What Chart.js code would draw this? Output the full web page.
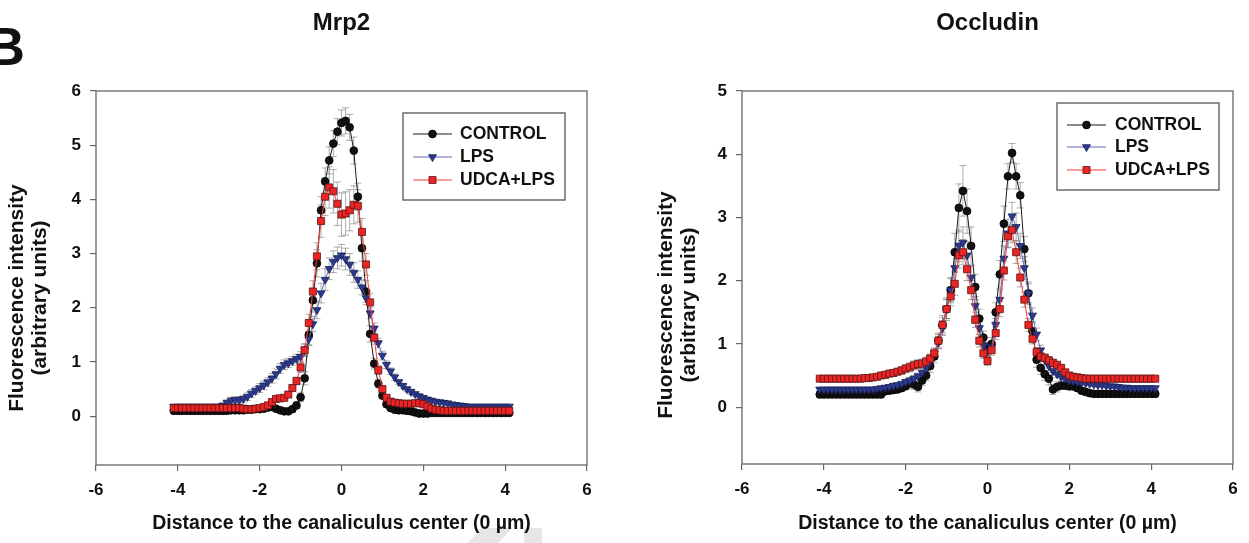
<!DOCTYPE html>
<html>
<head>
<meta charset="utf-8">
<script src="https://cdn.jsdelivr.net/npm/chart.js@4.4.1/dist/chart.umd.min.js"></script>
<style>
  html, body { margin: 0; padding: 0; background: #fff; overflow: hidden; }
  #wrap { position: relative; width: 1249px; height: 543px; overflow: hidden; }
  canvas { position: absolute; top: 0; }
  #panel { position: absolute; left: -14px; top: 19px; font: bold 54px/54px "Liberation Sans", Arial, sans-serif; color: #111; }
  .wm { position: absolute; background: #e6e6e6; }
  #wm1 { left: 468px; top: 528px; width: 44px; height: 15px; clip-path: polygon(30% 0, 100% 0, 70% 100%, 0 100%); }
  #wm2 { left: 524px; top: 528px; width: 18px; height: 15px; }
</style>
</head>
<body>
<div id="wrap">
  <div id="panel">B</div>
  <div class="wm" id="wm1"></div>
  <div class="wm" id="wm2"></div>
  <canvas id="mrp2" width="620" height="543" style="left:0"></canvas>
  <canvas id="occludin" width="629" height="543" style="left:620px"></canvas>
</div>
<script>
'use strict';

// ---- data -------------------------------------------------------------
const xPositions = [
  -4.1, -4.0, -3.9, -3.8, -3.7, -3.6, -3.5, -3.4, -3.3, -3.2, -3.1, -3.0, -2.9, -2.8, -2.7, -2.6, -2.5, -2.4, -2.3, -2.2, -2.1, -2.0,
  -1.9, -1.8, -1.7, -1.6, -1.5, -1.4, -1.3, -1.2, -1.1, -1.0, -0.9, -0.8, -0.7, -0.6, -0.5, -0.4, -0.3, -0.2, -0.1,
  0.0,
  0.1, 0.2, 0.3, 0.4, 0.5, 0.6, 0.7, 0.8, 0.9, 1.0, 1.1, 1.2, 1.3, 1.4, 1.5, 1.6, 1.7, 1.8, 1.9, 2.0, 2.1, 2.2,
  2.3, 2.4, 2.5, 2.6, 2.7, 2.8, 2.9, 3.0, 3.1, 3.2, 3.3, 3.4, 3.5, 3.6, 3.7, 3.8, 3.9, 4.0, 4.1
];
const xTicks = [-6, -4, -2, 0, 2, 4, 6];
const mrp2YTicks = [0, 1, 2, 3, 4, 5, 6];
const occYTicks = [0, 1, 2, 3, 4, 5];
const seriesLabels = ['CONTROL', 'LPS', 'UDCA+LPS'];

// Mrp2
const mrp2Control = [
  0.10, 0.10, 0.10, 0.10, 0.10, 0.10, 0.10, 0.10, 0.10, 0.10, 0.10, 0.10, 0.10, 0.10, 0.11, 0.11, 0.11, 0.11, 0.12, 0.12, 0.13, 0.13,
  0.14, 0.16, 0.17, 0.14, 0.11, 0.09, 0.09, 0.13, 0.20, 0.35, 0.70, 1.50, 2.14, 2.82, 3.80, 4.33, 4.72, 5.03, 5.25,
  5.41,
  5.45, 5.33, 4.90, 4.05, 3.10, 2.30, 1.52, 0.97, 0.60, 0.38, 0.22, 0.15, 0.12, 0.11, 0.11, 0.10, 0.09, 0.07, 0.05, 0.05, 0.05, 0.06,
  0.06, 0.06, 0.06, 0.06, 0.06, 0.06, 0.06, 0.06, 0.06, 0.06, 0.06, 0.06, 0.06, 0.06, 0.06, 0.06, 0.06, 0.06, 0.06
];
const mrp2Lps = [
  0.18, 0.18, 0.18, 0.18, 0.18, 0.18, 0.18, 0.18, 0.18, 0.18, 0.18, 0.18, 0.20, 0.25, 0.29, 0.30, 0.30, 0.32, 0.36, 0.42, 0.47, 0.52,
  0.57, 0.63, 0.70, 0.78, 0.88, 0.95, 0.98, 1.02, 1.06, 1.10, 1.22, 1.42, 1.70, 1.96, 2.27, 2.52, 2.72, 2.85, 2.92,
  2.97,
  2.90, 2.80, 2.65, 2.52, 2.38, 2.18, 1.90, 1.62, 1.35, 1.12, 0.95, 0.83, 0.72, 0.63, 0.56, 0.50, 0.45, 0.41, 0.37, 0.34, 0.31, 0.29,
  0.27, 0.26, 0.25, 0.24, 0.22, 0.21, 0.20, 0.19, 0.18, 0.18, 0.18, 0.18, 0.18, 0.18, 0.18, 0.18, 0.18, 0.18, 0.18
];
const mrp2Udca = [
  0.15, 0.15, 0.15, 0.15, 0.15, 0.15, 0.15, 0.15, 0.15, 0.15, 0.15, 0.15, 0.15, 0.15, 0.15, 0.15, 0.15, 0.14, 0.13, 0.13, 0.14, 0.15,
  0.17, 0.20, 0.26, 0.32, 0.33, 0.34, 0.40, 0.52, 0.65, 0.90, 1.22, 1.72, 2.30, 2.95, 3.60, 4.05, 4.22, 4.15, 3.92,
  3.72,
  3.74, 3.80, 3.90, 3.88, 3.40, 2.80, 2.10, 1.45, 0.85, 0.50, 0.34, 0.27, 0.25, 0.24, 0.23, 0.23, 0.23, 0.24, 0.24, 0.22, 0.18, 0.14,
  0.12, 0.11, 0.10, 0.10, 0.10, 0.10, 0.10, 0.10, 0.10, 0.10, 0.10, 0.10, 0.10, 0.10, 0.10, 0.10, 0.10, 0.10, 0.10
];
const mrp2ControlErr = [
  0.03, 0.03, 0.03, 0.03, 0.03, 0.03, 0.03, 0.03, 0.03, 0.03, 0.03, 0.03, 0.03, 0.03, 0.03, 0.03, 0.03, 0.03, 0.03, 0.03, 0.03, 0.03,
  0.03, 0.04, 0.04, 0.04, 0.04, 0.04, 0.04, 0.05, 0.06, 0.08, 0.12, 0.18, 0.22, 0.25, 0.25, 0.25, 0.25, 0.24, 0.24,
  0.24,
  0.24, 0.24, 0.25, 0.25, 0.24, 0.20, 0.15, 0.10, 0.08, 0.06, 0.05, 0.04, 0.04, 0.03, 0.03, 0.03, 0.03, 0.03, 0.03, 0.03, 0.03, 0.03,
  0.03, 0.03, 0.03, 0.03, 0.03, 0.03, 0.03, 0.03, 0.03, 0.03, 0.03, 0.03, 0.03, 0.03, 0.03, 0.03, 0.03, 0.03, 0.03
];
const mrp2LpsErr = [
  0.03, 0.03, 0.03, 0.03, 0.03, 0.03, 0.03, 0.03, 0.03, 0.03, 0.03, 0.03, 0.04, 0.05, 0.06, 0.06, 0.06, 0.06, 0.07, 0.07, 0.07, 0.08,
  0.08, 0.08, 0.09, 0.09, 0.09, 0.09, 0.08, 0.08, 0.08, 0.09, 0.10, 0.12, 0.14, 0.16, 0.18, 0.20, 0.20, 0.20, 0.20,
  0.20,
  0.20, 0.20, 0.18, 0.16, 0.14, 0.12, 0.10, 0.10, 0.09, 0.08, 0.07, 0.06, 0.06, 0.05, 0.05, 0.05, 0.05, 0.04, 0.04, 0.04, 0.04, 0.04,
  0.04, 0.04, 0.04, 0.04, 0.03, 0.03, 0.03, 0.03, 0.03, 0.03, 0.03, 0.03, 0.03, 0.03, 0.03, 0.03, 0.03, 0.03, 0.03
];
const mrp2UdcaErr = [
  0.03, 0.03, 0.03, 0.03, 0.03, 0.03, 0.03, 0.03, 0.03, 0.03, 0.03, 0.03, 0.03, 0.03, 0.03, 0.03, 0.03, 0.03, 0.03, 0.03, 0.03, 0.03,
  0.03, 0.04, 0.05, 0.05, 0.05, 0.05, 0.05, 0.06, 0.07, 0.09, 0.12, 0.16, 0.20, 0.25, 0.30, 0.35, 0.38, 0.40, 0.40,
  0.40,
  0.40, 0.38, 0.35, 0.30, 0.25, 0.20, 0.16, 0.12, 0.08, 0.06, 0.05, 0.04, 0.04, 0.04, 0.04, 0.04, 0.04, 0.04, 0.04, 0.04, 0.03, 0.03,
  0.03, 0.03, 0.03, 0.03, 0.03, 0.03, 0.03, 0.03, 0.03, 0.03, 0.03, 0.03, 0.03, 0.03, 0.03, 0.03, 0.03, 0.03, 0.03
];

// Occludin
const occControl = [
  0.20, 0.20, 0.20, 0.20, 0.20, 0.20, 0.20, 0.20, 0.20, 0.20, 0.20, 0.20, 0.20, 0.20, 0.20, 0.20, 0.25, 0.26, 0.27, 0.28, 0.30, 0.33,
  0.38, 0.36, 0.32, 0.42, 0.50, 0.65, 0.80, 1.05, 1.30, 1.55, 1.85, 2.45, 3.15, 3.42, 3.10, 2.55, 1.90, 1.40, 1.10,
  0.92,
  1.00, 1.50, 2.10, 2.90, 3.65, 4.02, 3.65, 3.35, 2.50, 1.80, 1.20, 0.75, 0.62, 0.52, 0.45, 0.28, 0.32, 0.34, 0.34, 0.33, 0.33, 0.30,
  0.26, 0.24, 0.22, 0.21, 0.21, 0.21, 0.21, 0.21, 0.21, 0.21, 0.21, 0.21, 0.21, 0.21, 0.21, 0.21, 0.21, 0.21, 0.21
];
const occLps = [
  0.28, 0.28, 0.28, 0.28, 0.28, 0.28, 0.28, 0.28, 0.28, 0.28, 0.28, 0.28, 0.28, 0.28, 0.29, 0.30, 0.31, 0.32, 0.34, 0.35, 0.37, 0.40,
  0.42, 0.45, 0.49, 0.55, 0.62, 0.72, 0.85, 1.02, 1.25, 1.55, 1.85, 2.20, 2.55, 2.60, 2.40, 2.05, 1.60, 1.25, 0.98,
  0.88,
  0.95, 1.30, 1.70, 2.35, 2.75, 3.02, 2.85, 2.55, 2.20, 1.80, 1.45, 1.15, 0.90, 0.75, 0.65, 0.57, 0.52, 0.48, 0.45, 0.42, 0.41, 0.40,
  0.39, 0.38, 0.37, 0.36, 0.35, 0.35, 0.34, 0.33, 0.33, 0.32, 0.31, 0.31, 0.30, 0.30, 0.30, 0.30, 0.30, 0.30, 0.30
];
const occUdca = [
  0.45, 0.45, 0.45, 0.45, 0.45, 0.45, 0.45, 0.45, 0.45, 0.45, 0.45, 0.46, 0.46, 0.47, 0.48, 0.50, 0.51, 0.53, 0.54, 0.56, 0.58, 0.61,
  0.63, 0.66, 0.68, 0.69, 0.72, 0.77, 0.85, 1.05, 1.30, 1.55, 1.75, 1.95, 2.40, 2.45, 2.18, 1.85, 1.38, 1.05, 0.85,
  0.73,
  0.90, 1.17, 1.55, 2.16, 2.70, 2.80, 2.45, 2.05, 1.70, 1.30, 1.08, 0.87, 0.80, 0.78, 0.74, 0.70, 0.67, 0.62, 0.55, 0.50, 0.48, 0.47,
  0.46, 0.45, 0.45, 0.45, 0.45, 0.45, 0.45, 0.45, 0.45, 0.45, 0.45, 0.45, 0.45, 0.45, 0.45, 0.45, 0.45, 0.45, 0.45
];
const occControlErr = [
  0.05, 0.05, 0.05, 0.05, 0.05, 0.05, 0.05, 0.05, 0.05, 0.05, 0.05, 0.05, 0.05, 0.05, 0.05, 0.05, 0.05, 0.05, 0.05, 0.05, 0.05, 0.05,
  0.08, 0.08, 0.08, 0.08, 0.08, 0.10, 0.10, 0.12, 0.15, 0.18, 0.20, 0.30, 0.38, 0.40, 0.35, 0.30, 0.20, 0.15, 0.10,
  0.10,
  0.10, 0.15, 0.22, 0.28, 0.20, 0.15, 0.20, 0.20, 0.20, 0.18, 0.15, 0.12, 0.10, 0.10, 0.10, 0.08, 0.08, 0.06, 0.06, 0.06, 0.06, 0.05,
  0.05, 0.05, 0.05, 0.05, 0.05, 0.05, 0.05, 0.05, 0.05, 0.05, 0.05, 0.05, 0.05, 0.05, 0.05, 0.05, 0.05, 0.05, 0.05
];
const occLpsErr = [
  0.03, 0.03, 0.03, 0.03, 0.03, 0.03, 0.03, 0.03, 0.03, 0.03, 0.03, 0.03, 0.03, 0.03, 0.03, 0.03, 0.03, 0.03, 0.03, 0.03, 0.03, 0.03,
  0.05, 0.05, 0.05, 0.06, 0.06, 0.07, 0.08, 0.10, 0.12, 0.15, 0.18, 0.20, 0.25, 0.25, 0.22, 0.18, 0.15, 0.10, 0.08,
  0.08,
  0.08, 0.10, 0.15, 0.20, 0.22, 0.22, 0.22, 0.20, 0.18, 0.15, 0.12, 0.10, 0.08, 0.08, 0.07, 0.06, 0.05, 0.05, 0.04, 0.04, 0.04, 0.04,
  0.03, 0.03, 0.03, 0.03, 0.03, 0.03, 0.03, 0.03, 0.03, 0.03, 0.03, 0.03, 0.03, 0.03, 0.03, 0.03, 0.03, 0.03, 0.03
];
const occUdcaErr = [
  0.03, 0.03, 0.03, 0.03, 0.03, 0.03, 0.03, 0.03, 0.03, 0.03, 0.03, 0.03, 0.03, 0.03, 0.03, 0.03, 0.04, 0.04, 0.05, 0.05, 0.06, 0.06,
  0.07, 0.07, 0.07, 0.07, 0.07, 0.07, 0.08, 0.10, 0.12, 0.15, 0.15, 0.18, 0.20, 0.20, 0.18, 0.15, 0.12, 0.10, 0.08,
  0.07,
  0.08, 0.10, 0.12, 0.15, 0.18, 0.20, 0.18, 0.15, 0.12, 0.10, 0.08, 0.07, 0.06, 0.06, 0.06, 0.06, 0.05, 0.05, 0.04, 0.04, 0.03, 0.03,
  0.03, 0.03, 0.03, 0.03, 0.03, 0.03, 0.03, 0.03, 0.03, 0.03, 0.03, 0.03, 0.03, 0.03, 0.03, 0.03, 0.03, 0.03, 0.03
];

// ---- styles -----------------------------------------------------------
const FONT = '"Liberation Sans", Arial, sans-serif';
const INK = '#111';
const AXIS = '#666';

const STYLE_CONTROL = {
  borderColor: '#1a1a1a', pointStyle: 'circle', pointRadius: 3.9, pointRotation: 0,
  pointBackgroundColor: '#111', pointBorderColor: '#000', order: 2,
};
const STYLE_LPS = {
  borderColor: '#6b6bb8', pointStyle: 'triangle', pointRadius: 4.6, pointRotation: 180,
  pointBackgroundColor: '#2b3a8c', pointBorderColor: '#1b1f5a', order: 1,
};
const STYLE_UDCA = {
  borderColor: '#ff3a3a', pointStyle: 'rect', pointRadius: 5, pointRotation: 0,
  pointBackgroundColor: '#ec2424', pointBorderColor: '#5a1515', order: 0,
};

Chart.defaults.font.family = FONT;
Chart.defaults.color = INK;

// ---- plugins ----------------------------------------------------------
const plotFrame = {
  id: 'plotFrame',
  beforeDatasetsDraw(chart) {
    const { ctx, chartArea: a } = chart;
    ctx.save();
    ctx.strokeStyle = AXIS;
    ctx.lineWidth = 1.3;
    ctx.strokeRect(a.left, a.top, a.right - a.left, a.bottom - a.top);
    ctx.restore();
  },
};

const errorBars = {
  id: 'errorBars',
  beforeDatasetsDraw(chart) {
    const { ctx, scales: { x, y } } = chart;
    ctx.save();
    ctx.strokeStyle = 'rgba(105,105,105,0.55)';
    ctx.lineWidth = 1;
    chart.data.datasets.forEach(ds => {
      ds.data.forEach((p, i) => {
        const e = ds.errors[i];
        const px = x.getPixelForValue(p.x);
        const top = y.getPixelForValue(p.y + e);
        const bot = y.getPixelForValue(p.y - e);
        ctx.beginPath();
        ctx.moveTo(px, top); ctx.lineTo(px, bot);
        ctx.moveTo(px - 3.5, top); ctx.lineTo(px + 3.5, top);
        ctx.moveTo(px - 3.5, bot); ctx.lineTo(px + 3.5, bot);
        ctx.stroke();
      });
    });
    ctx.restore();
  },
};

function drawMarker(ctx, ds, x, y) {
  ctx.fillStyle = ds.pointBackgroundColor;
  ctx.strokeStyle = ds.pointBorderColor;
  ctx.lineWidth = 0.8;
  Chart.helpers.drawPoint(ctx, {
    pointStyle: ds.pointStyle, rotation: ds.pointRotation,
    radius: ds.pointRadius, borderWidth: 0.8,
  }, x, y);
}

const boxLegend = {
  id: 'boxLegend',
  afterDraw(chart, args, opts) {
    const { ctx } = chart;
    const [x0, y0, x1, y1] = opts.box;
    ctx.save();
    ctx.strokeStyle = '#555';
    ctx.lineWidth = 1.3;
    ctx.strokeRect(x0, y0, x1 - x0, y1 - y0);
    ctx.font = `bold 17.5px ${FONT}`;
    ctx.textBaseline = 'middle';
    ctx.textAlign = 'left';
    chart.data.datasets.forEach((ds, i) => {
      const y = opts.rows[i];
      ctx.strokeStyle = ds.borderColor;
      ctx.lineWidth = 1.2;
      ctx.beginPath();
      ctx.moveTo(opts.line[0], y);
      ctx.lineTo(opts.line[1], y);
      ctx.stroke();
      drawMarker(ctx, ds, (opts.line[0] + opts.line[1]) / 2, y);
      ctx.fillStyle = INK;
      ctx.fillText(ds.label, opts.textX, y);
    });
    ctx.restore();
  },
};

const panelText = {
  id: 'panelText',
  afterDraw(chart, args, opts) {
    const { ctx, chartArea: a } = chart;
    ctx.save();
    ctx.fillStyle = INK;
    ctx.textAlign = 'center';
    ctx.textBaseline = 'middle';
    ctx.font = `bold 24px ${FONT}`;
    ctx.fillText(opts.title, (a.left + a.right) / 2, opts.titleY);
    ctx.font = `bold 21px ${FONT}`;
    opts.yTitle.forEach((line, i) => {
      ctx.save();
      ctx.translate(opts.yTitleX[i], opts.yTitleY);
      ctx.rotate(-Math.PI / 2);
      ctx.fillText(line, 0, 0);
      ctx.restore();
    });
    ctx.restore();
  },
};

// ---- charts -----------------------------------------------------------
const toPoints = ys => xPositions.map((x, i) => ({ x, y: ys[i] }));

function series(label, ys, errs, style) {
  return {
    label, data: toPoints(ys), errors: errs,
    borderWidth: 1, tension: 0, fill: false,
    pointBorderWidth: 0.8, pointHoverRadius: style.pointRadius,
    ...style,
  };
}

function makeChart(id, cfg) {
  return new Chart(document.getElementById(id), {
    type: 'line',
    data: {
      datasets: [
        series(seriesLabels[0], cfg.control, cfg.controlErr, STYLE_CONTROL),
        series(seriesLabels[1], cfg.lps, cfg.lpsErr, STYLE_LPS),
        series(seriesLabels[2], cfg.udca, cfg.udcaErr, STYLE_UDCA),
      ],
    },
    plugins: [plotFrame, errorBars, boxLegend, panelText],
    options: {
      responsive: false,
      animation: false,
      devicePixelRatio: 1,
      layout: { padding: { top: cfg.top, right: cfg.right, left: 0, bottom: 0 } },
      plugins: {
        legend: { display: false },
        title: { display: false },
        tooltip: { enabled: false },
        boxLegend: cfg.legend,
        panelText: {
          title: cfg.title, titleY: 23,
          yTitle: ['Fluorescence intensity', '(arbitrary units)'],
          yTitleX: cfg.yTitleX, yTitleY: cfg.yTitleY,
        },
      },
      scales: {
        x: {
          type: 'linear', min: -6, max: 6,
          afterBuildTicks: s => { s.ticks = xTicks.map(value => ({ value })); },
          afterFit: s => { s.height = cfg.xAxisHeight; },
          grid: { drawOnChartArea: false, tickLength: 6, color: AXIS, lineWidth: 1.2 },
          border: { display: false },
          ticks: { autoSkip: false, maxRotation: 0, padding: 9, color: INK, font: { size: 17, weight: 'bold' } },
          title: {
            display: true, text: 'Distance to the canaliculus center (0 µm)',
            color: INK, font: { size: 19.5, weight: 'bold' }, padding: { top: 0, bottom: 8 },
          },
        },
        y: {
          type: 'linear', min: -0.9, max: cfg.yMax,
          afterBuildTicks: s => { s.ticks = cfg.yTicks.map(value => ({ value })); },
          afterFit: s => { s.width = cfg.yAxisWidth; },
          grid: { drawOnChartArea: false, tickLength: 6, color: AXIS, lineWidth: 1.2 },
          border: { display: false },
          ticks: { padding: 9, color: INK, font: { size: 17, weight: 'bold' } },
        },
      },
    },
  });
}

makeChart('mrp2', {
  title: 'Mrp2',
  control: mrp2Control, lps: mrp2Lps, udca: mrp2Udca,
  controlErr: mrp2ControlErr, lpsErr: mrp2LpsErr, udcaErr: mrp2UdcaErr,
  yMax: 6, yTicks: mrp2YTicks,
  top: 91, right: 33, yAxisWidth: 96, xAxisHeight: 78,
  yTitleX: [17.5, 40.5], yTitleY: 298,
  legend: { box: [403, 113, 565, 200], rows: [134, 157, 180], line: [413, 452], textX: 460 },
});

makeChart('occludin', {
  title: 'Occludin',
  control: occControl, lps: occLps, udca: occUdca,
  controlErr: occControlErr, lpsErr: occLpsErr, udcaErr: occUdcaErr,
  yMax: 5, yTicks: occYTicks,
  top: 91, right: 16, yAxisWidth: 122, xAxisHeight: 79,
  yTitleX: [46, 69], yTitleY: 305,
  legend: { box: [437, 103, 599, 190], rows: [125, 147, 170], line: [447, 486], textX: 495 },
});
</script>
</body>
</html>
